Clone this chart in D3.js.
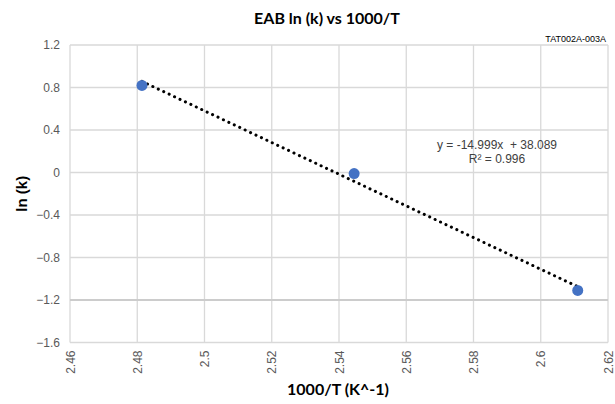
<!DOCTYPE html>
<html>
<head>
<meta charset="utf-8">
<script src="https://cdn.jsdelivr.net/npm/d3@7"></script>
<style>
  body { margin: 0; background: #fff; }
  svg { display: block; }
</style>
</head>
<body>
<script>
// data
const xValues = [2.4814, 2.5445, 2.6110];
const yValues = [0.82, -0.01, -1.11];
const xTicks = [2.46, 2.48, 2.5, 2.52, 2.54, 2.56, 2.58, 2.6, 2.62];
const yTicks = [1.2, 0.8, 0.4, 0, -0.4, -0.8, -1.2, -1.6];
const equationLines = ["y = -14.999x  + 38.089", "R\u00B2 = 0.996"];

const W = 615, H = 404;
const margin = {top: 45, right: 7, bottom: 61.5, left: 70},
    width = W - margin.left - margin.right,
    height = H - margin.top - margin.bottom;

const svg = d3.select("body").append("svg")
    .attr("width", W)
    .attr("height", H);

const x = d3.scaleLinear().domain([2.46, 2.62]).range([0, width]);
const y = d3.scaleLinear().domain([-1.6, 1.2]).range([height, 0]);

const g = svg.append("g")
    .attr("transform", "translate(" + margin.left + "," + margin.top + ")");

// gridlines
g.selectAll(".vgrid")
    .data(xTicks)
    .enter().append("line")
    .attr("x1", d => x(d)).attr("x2", d => x(d))
    .attr("y1", 0).attr("y2", height)
    .attr("stroke", "#d9d9d9")
    .attr("stroke-width", 1.3);

g.selectAll(".hgrid")
    .data(yTicks)
    .enter().append("line")
    .attr("x1", 0).attr("x2", width)
    .attr("y1", d => y(d)).attr("y2", d => y(d))
    .attr("stroke", d => d === -1.2 ? "#cccccc" : "#d9d9d9")
    .attr("stroke-width", d => d === -1.2 ? 2 : 1.3);

// y tick labels
const yAxis = d3.axisLeft(y).tickValues(yTicks).tickSize(0).tickPadding(10)
    .tickFormat(d3.format("~g"));
const ya = g.append("g").call(yAxis);
ya.select(".domain").remove();
ya.selectAll("text")
    .style("font-family", "'Liberation Sans', Arial, sans-serif")
    .style("font-size", "12px")
    .attr("fill", "#595959");

// x tick labels (rotated)
const xAxis = d3.axisBottom(x).tickValues(xTicks).tickSize(0)
    .tickFormat(d3.format("~g"));
const xa = g.append("g").attr("transform", "translate(0," + height + ")").call(xAxis);
xa.select(".domain").remove();
xa.selectAll("text")
    .style("font-family", "'Liberation Sans', Arial, sans-serif")
    .style("font-size", "12px")
    .attr("fill", "#595959")
    .attr("transform", "rotate(-90)")
    .attr("text-anchor", "end")
    .attr("x", -8)
    .attr("y", 0)
    .attr("dy", "0.35em");

// trendline from least squares
const mx = d3.mean(xValues), my = d3.mean(yValues);
const slope = d3.sum(xValues, (v, i) => (v - mx) * (yValues[i] - my)) /
    d3.sum(xValues, v => (v - mx) * (v - mx));
const intercept = my - slope * mx;
const ext = d3.extent(xValues);
const trend = ext.map(v => [v, slope * v + intercept]);

g.append("path")
    .datum(trend)
    .attr("d", d3.line().x(d => x(d[0])).y(d => y(d[1])))
    .attr("fill", "none")
    .attr("stroke", "#000")
    .attr("stroke-width", 3)
    .attr("stroke-linecap", "round")
    .attr("stroke-dasharray", "0.1,5.9");

// points
g.selectAll(".pt")
    .data(xValues.map((v, i) => [v, yValues[i]]))
    .enter().append("circle")
    .attr("cx", d => x(d[0]))
    .attr("cy", d => y(d[1]))
    .attr("r", 5.5)
    .attr("fill", "#4472c4");

// equation label
svg.append("text")
    .attr("x", 497).attr("y", 0)
    .style("font-family", "'Liberation Sans', Arial, sans-serif")
    .style("font-size", "12px")
    .style("white-space", "pre")
    .attr("fill", "#404040")
    .attr("text-anchor", "middle")
    .selectAll("tspan")
    .data(equationLines)
    .enter().append("tspan")
    .attr("x", 497)
    .attr("y", (d, i) => 149 + i * 14)
    .text(d => d);

// title
svg.append("text")
    .attr("x", 327).attr("y", 24)
    .attr("text-anchor", "middle")
    .style("font-family", "Lato, 'Open Sans', sans-serif")
    .style("font-weight", "bold")
    .style("font-size", "16px")
    .attr("fill", "#000")
    .text("EAB ln (k) vs 1000/T");

svg.append("text")
    .attr("x", 606).attr("y", 42)
    .attr("text-anchor", "end")
    .style("font-family", "'Liberation Sans', Arial, sans-serif")
    .style("font-size", "9px")
    .attr("fill", "#000")
    .text("TAT002A-003A");

// axis titles
svg.append("text")
    .attr("transform", "translate(27," + (margin.top + y(-0.2)) + ") rotate(-90)")
    .attr("text-anchor", "middle")
    .style("font-family", "'Liberation Sans', Arial, sans-serif")
    .style("font-weight", "bold")
    .style("font-size", "15px")
    .attr("fill", "#000")
    .text("ln (k)");

svg.append("text")
    .attr("x", 338).attr("y", 395)
    .attr("text-anchor", "middle")
    .style("font-family", "Lato, 'Open Sans', sans-serif")
    .style("font-weight", "bold")
    .style("font-size", "16px")
    .attr("fill", "#000")
    .text("1000/T (K^-1)");
</script>
</body>
</html>
